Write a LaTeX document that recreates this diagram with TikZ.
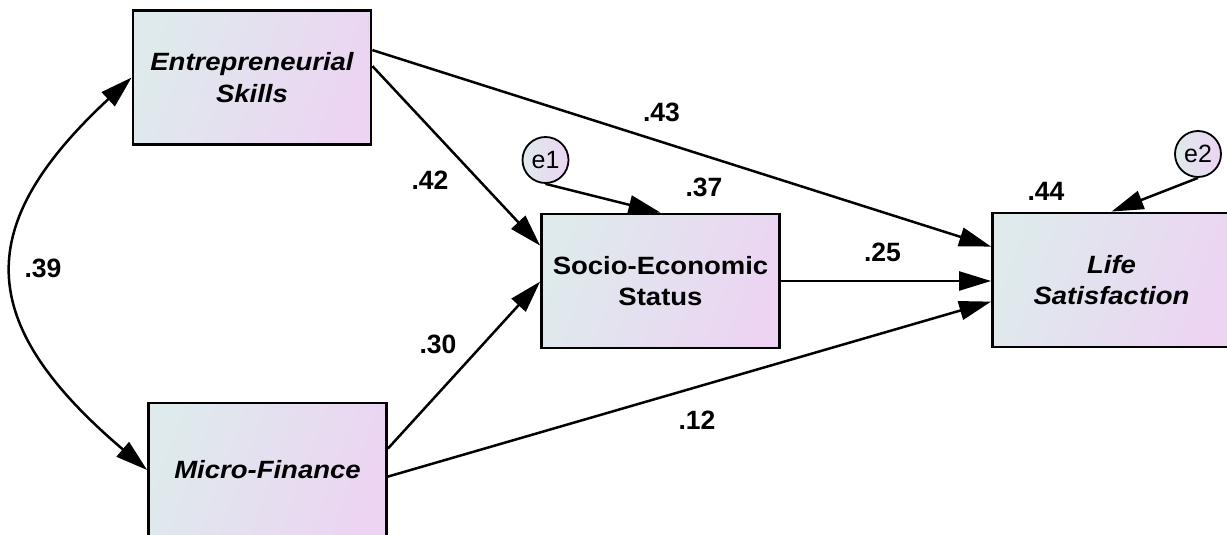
\documentclass[tikz,border=0pt]{standalone}
\usepackage{fontspec}
\newfontfamily\labfont[FakeStretch=1.1]{Liberation Sans}
\newfontfamily\numfont{Liberation Sans}
\usetikzlibrary{arrows.meta}
\definecolor{fillL}{RGB}{222,234,236}
\definecolor{fillR}{RGB}{236,212,242}
\tikzset{
  box/.style={draw=black, line width=2.8pt, minimum width=238pt, minimum height=134pt,
    inner sep=0pt, align=center, left color=fillL, right color=fillR, shading angle=70,
    font=\labfont\fontsize{25}{31.5}\selectfont\bfseries},
  errc/.style={draw=black, line width=1.8pt, circle, minimum size=46pt, inner sep=0pt,
    left color=fillL, right color=fillR, font=\numfont\fontsize{25}{28}\selectfont},
  path/.style={line width=2.5pt, -{Triangle[length=32pt,width=19pt]}},
  cov/.style={line width=2.5pt, {Triangle[length=32pt,width=19pt]}-{Triangle[length=32pt,width=19pt]}},
  coef/.style={font=\numfont\fontsize{26.5}{28}\selectfont\bfseries, inner sep=0pt},
}
\begin{document}
\begin{tikzpicture}[x=1pt,y=-1pt]
\useasboundingbox (0,0) rectangle (1227,535);
\node[box] (es) at (252,77.5) {\itshape Entrepreneurial\\\itshape Skills};
\node[box] (ses) at (660.5,281) {Socio-Economic\\Status};
\node[box] (ls) at (1111.5,280) {\itshape Life\\\itshape Satisfaction};
\node[box] (mf) at (267.5,470) {\itshape Micro-Finance};
\node[errc] (e1) at (545.5,160) {e1};
\node[errc] (e2) at (1198,154) {e2};

\draw[path] ([yshift=-41pt]es.north east) -- ([yshift=-35pt]ls.north west);
\draw[path] ([yshift=-57pt]es.north east) -- ([yshift=-33pt]ses.north west);
\draw[path] ([yshift=-47pt]mf.north east) -- ([yshift=-69pt]ses.north west);
\draw[path] ([yshift=-75pt]mf.north east) -- ([yshift=-90pt]ls.north west);
\draw[path] (ses.east) -- (ses.east -| ls.west);
\draw[path] (e1.south) -- (ses.north);
\draw[path] (e2.south) -- (ls.north);
\draw[cov] (es.west) .. controls (-27,225) and (-27,322) .. (mf.west);

\node[coef] (c43) at (661.5,112.5) {.43};
\node[coef] (c42) at (430,180.5) {.42};
\node[coef] (c37) at (704,187.5) {.37};
\node[coef] (c39) at (43,268) {.39};
\node[coef] (c25) at (882.5,252.5) {.25};
\node[coef] (c30) at (438,344) {.30};
\node[coef] (c12) at (697,420) {.12};
\node[coef] (c44) at (1046,191) {.44};
\end{tikzpicture}
\end{document}
